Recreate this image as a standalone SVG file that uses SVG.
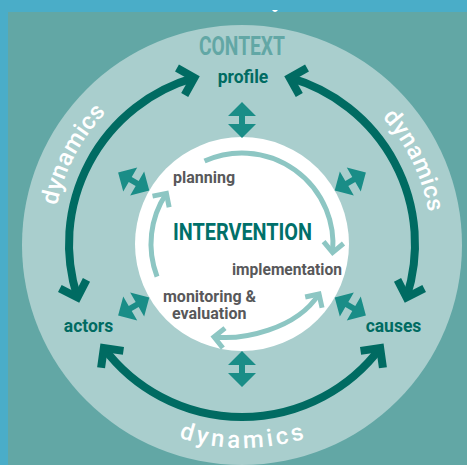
<svg xmlns="http://www.w3.org/2000/svg" xmlns:xlink="http://www.w3.org/1999/xlink" width="467" height="465" viewBox="0 0 467 465">
  <style>
    .lbl { font-family: Roboto, "Liberation Sans", sans-serif; font-weight: 700; }
    .dark { fill: #006b62; }
    .gray { fill: #58585a; font-size: 16px; }
    .cond { font-family: Roboto, "Liberation Sans", sans-serif; font-weight: 700; }
    .dyn { font-family: Roboto, "Liberation Sans", sans-serif; font-weight: 500; fill: #ffffff; font-size: 24px; }
    .big { fill: none; stroke: #006b62; stroke-width: 8; }
    .inner { fill: none; stroke: #8dc6c3; stroke-width: 5; }
    .dbl { fill: #1a8d87; }
  </style>
  <defs>
    <marker id="bigHead" markerUnits="userSpaceOnUse" orient="auto-start-reverse" refX="0" refY="0" markerWidth="40" markerHeight="40" overflow="visible">
      <path d="M-14,-14 L0,0 L-14,14" fill="none" stroke="#006b62" stroke-width="8" stroke-linejoin="miter"/>
    </marker>
    <marker id="innerHead" markerUnits="userSpaceOnUse" orient="auto-start-reverse" refX="0" refY="0" markerWidth="30" markerHeight="30" overflow="visible">
      <path d="M-10,-10 L0,0 L-10,10" fill="none" stroke="#8dc6c3" stroke-width="5" stroke-linejoin="miter"/>
    </marker>
    <path id="dbl" d="M18,0 L4,-14 L4,-3 L-4,-3 L-4,-14 L-18,0 L-4,14 L-4,3 L4,3 L4,14 Z"/>
    <path id="cwPath" d="M147.5,407.68 A189 189 0 1 1 336.5,407.68"/>
    <path id="ccwPath" d="M39.5,244 A204 204 0 0 0 447.5,244"/>
  </defs>

  <g id="background">
    <rect x="0" y="0" width="467" height="465" fill="#4aadc8"/>
    <rect x="8" y="12" width="459" height="453" fill="#62a7a5"/>
    <path d="M272,10 Q275,14 278,10 Z" fill="#ffffff"/>
  </g>

  <g id="context">
    <circle cx="242" cy="245" r="220" fill="#a9cecd"/>
    <text class="cond" x="242" y="55" font-size="25" fill="#62a7a5" text-anchor="middle" textLength="86" lengthAdjust="spacingAndGlyphs">CONTEXT</text>
  </g>

  <g id="intervention">
    <circle cx="242" cy="244" r="107" fill="#ffffff"/>
    <text class="cond" x="242.5" y="240" font-size="24" fill="#00706a" text-anchor="middle" textLength="139" lengthAdjust="spacingAndGlyphs">INTERVENTION</text>
  </g>

  <g id="profile"><text class="lbl dark" x="243" y="83" font-size="17.5" text-anchor="middle">profile</text></g>
  <g id="actors"><text class="lbl dark" x="88.5" y="332" font-size="17.5" text-anchor="middle">actors</text></g>
  <g id="causes"><text class="lbl dark" x="393.5" y="332" font-size="17.5" text-anchor="middle">causes</text></g>

  <g id="planning"><text class="lbl gray" x="173" y="183">planning</text></g>
  <g id="implementation"><text class="lbl gray" x="232" y="275" textLength="110" lengthAdjust="spacingAndGlyphs">implementation</text></g>
  <g id="monitoring"><text class="lbl gray" x="163" y="302">monitoring &amp;</text><text class="lbl gray" x="172" y="318.5">evaluation</text></g>

  <g id="dynamics-labels">
    <text class="dyn" letter-spacing="0.5"><textPath xlink:href="#cwPath" href="#cwPath" startOffset="290" text-anchor="middle">dynamics</textPath></text>
    <text class="dyn" letter-spacing="0.5"><textPath xlink:href="#cwPath" href="#cwPath" startOffset="706" text-anchor="middle">dynamics</textPath></text>
    <text class="dyn" letter-spacing="3.5"><textPath xlink:href="#ccwPath" href="#ccwPath" startOffset="50%" text-anchor="middle">dynamics</textPath></text>
  </g>

  <g id="connectors">
    <path class="big" d="M77.47,297.46 A173 173 0 0 1 194.31,77.70" marker-start="url(#bigHead)" marker-end="url(#bigHead)"/>
    <path class="big" d="M289.69,77.70 A173 173 0 0 1 406.53,297.46" marker-start="url(#bigHead)" marker-end="url(#bigHead)"/>
    <path class="big" d="M380.16,348.11 A173 173 0 0 1 103.84,348.11" marker-start="url(#bigHead)" marker-end="url(#bigHead)"/>

    <path class="inner" d="M204.55,161.06 A91 91 0 0 1 332.60,252.56" marker-end="url(#innerHead)"/>
    <path class="inner" d="M157.04,276.61 A91 91 0 0 1 166.40,193.35" marker-end="url(#innerHead)"/>
    <path class="inner" d="M214,337 C242,340 296,330 319,294" marker-start="url(#innerHead)" marker-end="url(#innerHead)"/>

    <use href="#dbl" class="dbl" transform="translate(242,120) rotate(90)"/>
    <use href="#dbl" class="dbl" transform="translate(242,369) rotate(90)"/>
    <use href="#dbl" class="dbl" transform="translate(133.7,181.5) rotate(30)"/>
    <use href="#dbl" class="dbl" transform="translate(350.3,181.5) rotate(-30)"/>
    <use href="#dbl" class="dbl" transform="translate(350.3,306.5) rotate(30)"/>
    <use href="#dbl" class="dbl" transform="translate(133.7,306.5) rotate(-30)"/>
  </g>
</svg>
